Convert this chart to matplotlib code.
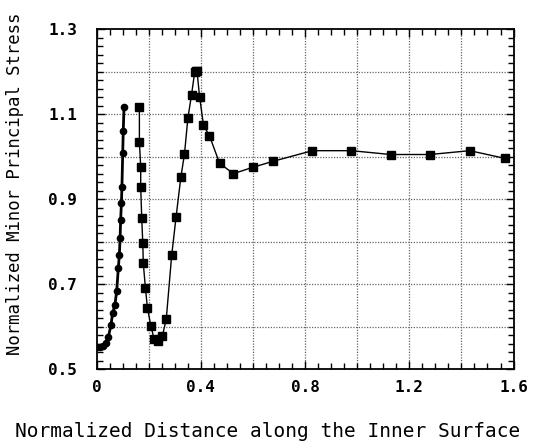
import numpy as np
import matplotlib
matplotlib.use('Agg')
import matplotlib.pyplot as plt
from matplotlib.ticker import MultipleLocator

# === data ===
x_circ = [0.000, 0.013, 0.025, 0.036, 0.045, 0.055, 0.061, 0.070, 0.077, 0.083,
          0.087, 0.090, 0.092, 0.095, 0.097, 0.100, 0.102, 0.105]
y_circ = [0.552, 0.552, 0.555, 0.561, 0.576, 0.604, 0.631, 0.651, 0.684, 0.737,
          0.768, 0.809, 0.851, 0.890, 0.929, 1.008, 1.060, 1.116]

x_sq = [0.164, 0.164, 0.169, 0.169, 0.173, 0.177, 0.179, 0.187, 0.195, 0.208,
        0.220, 0.235, 0.252, 0.267, 0.288, 0.305, 0.323, 0.337, 0.350, 0.364,
        0.376, 0.380, 0.385, 0.395, 0.410, 0.433, 0.472, 0.525, 0.600, 0.677,
        0.828, 0.978, 1.128, 1.279, 1.432, 1.566]
y_sq = [1.116, 1.035, 0.976, 0.929, 0.855, 0.797, 0.749, 0.692, 0.643, 0.602,
        0.572, 0.566, 0.578, 0.617, 0.768, 0.859, 0.951, 1.006, 1.090, 1.145,
        1.198, 1.201, 1.202, 1.141, 1.074, 1.049, 0.984, 0.960, 0.975, 0.989,
        1.014, 1.014, 1.005, 1.005, 1.014, 0.996]

x_ticks = [0, 0.4, 0.8, 1.2, 1.6]
x_ticklabels = ['0', '0.4', '0.8', '1.2', '1.6']
y_ticks = [0.5, 0.7, 0.9, 1.1, 1.3]
y_ticklabels = ['0.5', '0.7', '0.9', '1.1', '1.3']

mono = 'DejaVu Sans Mono'

fig = plt.figure(figsize=(5.4, 4.48), dpi=100)
ax = fig.add_axes([0.179, 0.176, 0.772, 0.759])

ax.plot(x_circ, y_circ, '-o', color='black', lw=2.0, ms=4.5, zorder=3)
ax.plot(x_sq, y_sq, '-s', color='black', lw=1.0, ms=5.5, zorder=3)

ax.set_xlim(0, 1.6)
ax.set_ylim(0.5, 1.3)

# grid every 0.2 in x and 0.1 in y
for gx in np.arange(0.2, 1.6, 0.2):
    ax.axvline(gx, color='#666666', lw=0.9, ls=(0, (1, 1.2)), zorder=1)
for gy in np.arange(0.6, 1.25, 0.1):
    ax.axhline(gy, color='#666666', lw=0.9, ls=(0, (1, 1.2)), zorder=1)

ax.set_xticks(x_ticks)
ax.set_xticklabels(x_ticklabels, family=mono, fontweight='bold', fontsize=11.5)
ax.set_yticks(y_ticks)
ax.set_yticklabels(y_ticklabels, family=mono, fontweight='bold', fontsize=11.5)
ax.xaxis.set_minor_locator(MultipleLocator(0.05))
ax.yaxis.set_minor_locator(MultipleLocator(0.02))
ax.tick_params(which='both', direction='in', top=True, right=True, width=1)
ax.tick_params(which='major', length=6)
ax.tick_params(which='minor', length=4)
ax.tick_params(axis='x', which='major', pad=8)
ax.tick_params(axis='y', which='major', pad=14)
for sp in ax.spines.values():
    sp.set_linewidth(1.3)

ax.set_xlabel('Normalized Distance along the Inner Surface', family=mono, fontsize=14)
ax.xaxis.set_label_coords(0.41, -0.155)
ax.set_ylabel('Normalized Minor Principal Stress', family=mono, fontsize=12.4)
ax.yaxis.set_label_coords(-0.175, 0.545)

fig.savefig('out.png', dpi=100)
